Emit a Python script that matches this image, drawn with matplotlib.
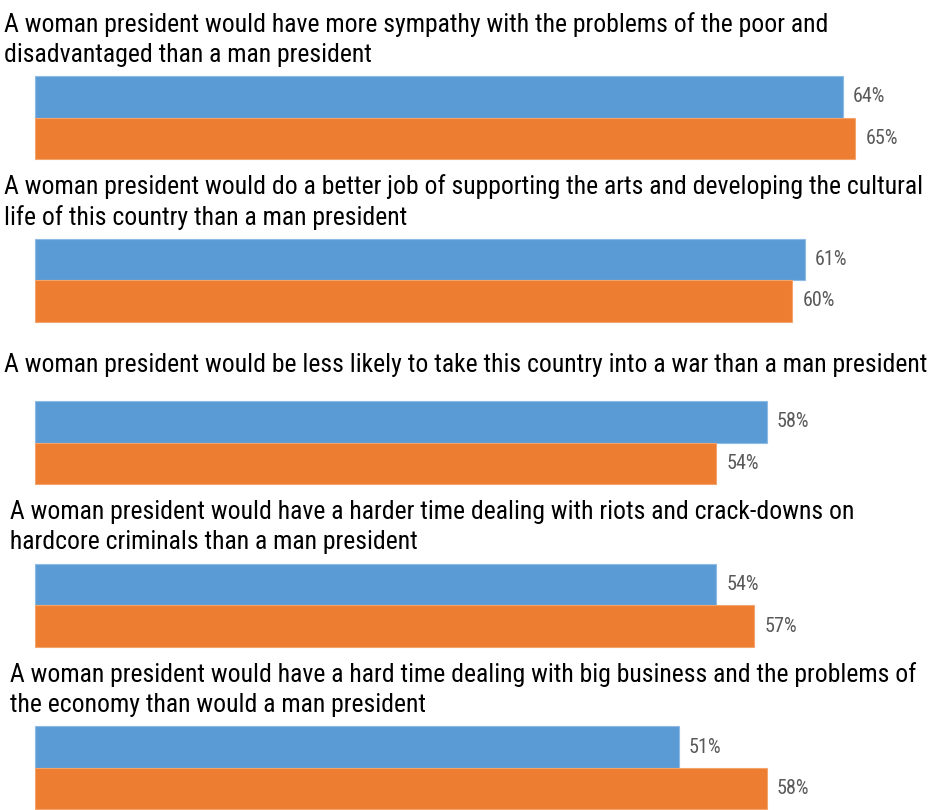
import matplotlib.pyplot as plt
import numpy as np

statements = [
    "A woman president would have more sympathy with the problems of the poor and\ndisadvantaged than a man president",
    "A woman president would do a better job of supporting the arts and developing the cultural\nlife of this country than a man president",
    "A woman president would be less likely to take this country into a war than a man president",
    " A woman president would have a harder time dealing with riots and crack-downs on\n hardcore criminals than a man president",
    " A woman president would have a hard time dealing with big business and the problems of\n the economy than would a man president",
]
blue_vals = [64, 61, 58, 54, 51]
orange_vals = [65, 60, 54, 57, 58]

plt.rcParams['font.family'] = ['Roboto Condensed', 'Open Sans Condensed', 'Liberation Sans Narrow',
                               'Liberation Sans', 'DejaVu Sans']

fig = plt.figure(figsize=(9.29, 8.10), dpi=100)
ax = fig.add_axes([0, 0, 1, 1])

px = 12.62  # pixels per percent
ax.set_xlim(-35 / px, (929 - 35) / px)
ax.set_ylim(4.259, -0.723)

y = np.arange(len(statements))
h = 0.255
ax.barh(y - h / 2, blue_vals, height=h, color='#5B9BD5', edgecolor='#8dbbe6', linewidth=0.8)
ax.barh(y + h / 2, orange_vals, height=h, color='#ED7D31', edgecolor='#f5a46e', linewidth=0.8)

for i in range(len(statements)):
    ax.text(-2.45, y[i] - 0.48, statements[i], fontsize=18.5, va='center', ha='left',
            color='black', linespacing=1.3)
    ax.text(blue_vals[i] + 0.8, y[i] - h / 2, f"{blue_vals[i]}%", fontsize=14.5,
            va='center', ha='left', color='#595959')
    ax.text(orange_vals[i] + 0.8, y[i] + h / 2, f"{orange_vals[i]}%", fontsize=14.5,
            va='center', ha='left', color='#595959')

ax.axis('off')
fig.savefig('out.png', dpi=100)
